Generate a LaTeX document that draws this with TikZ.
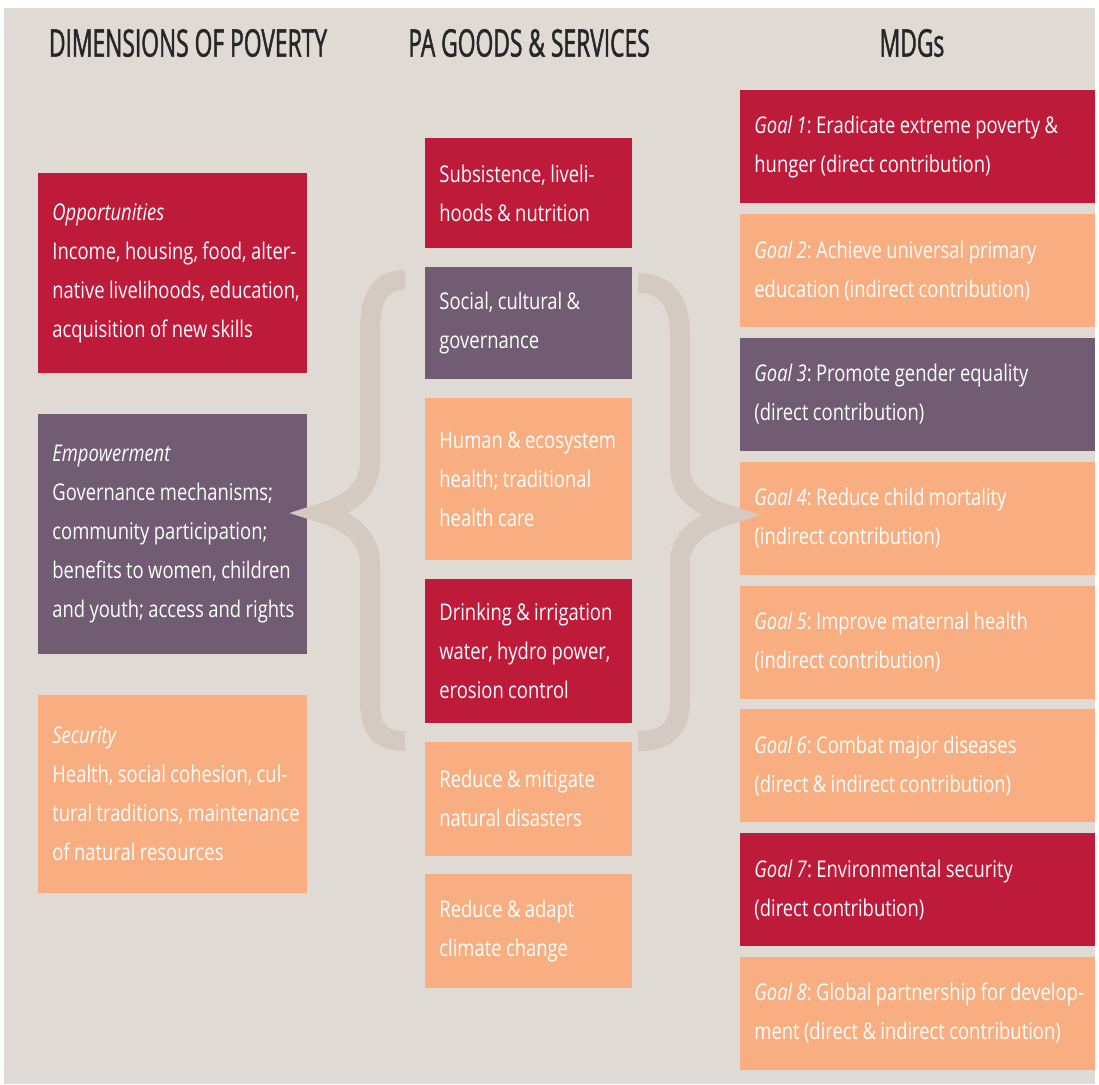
\documentclass[tikz,border=0pt]{standalone}
\usepackage{fontspec}
\setmainfont[FakeStretch=0.8]{Open Sans}
\newfontfamily\headfont[FakeStretch=0.6,FakeBold=1.2]{Open Sans}
\usetikzlibrary{positioning}

\definecolor{crimson}{HTML}{BE1A3A}
\definecolor{plum}{HTML}{725C74}
\definecolor{peach}{HTML}{F8AE80}
\definecolor{sand}{HTML}{E0DAD5}
\definecolor{bracegray}{HTML}{D4CAC1}

\begin{document}
\begin{tikzpicture}[x=0.5pt,y=-0.5pt,
    box/.style={inner xsep=0pt,inner ysep=0pt,text=white,align=left,
        font=\fontsize{11.5}{19.5}\selectfont,
        execute at begin node={\frenchspacing\leftskip=7pt\spaceskip=2.2pt plus 1pt minus .5pt}},
    dim box/.style={box,text width=134.5pt},
    goods box/.style={box,text width=103.5pt},
    goal box/.style={box,text width=177.5pt,minimum height=56.5pt},
    head/.style={font=\headfont\fontsize{19}{22}\selectfont,text=black!85},
    brace/.style={draw=bracegray,line width=10pt,line cap=butt}]
    \useasboundingbox (0,0) rectangle (1099,1084);
    \fill[white] (0,0) rectangle (1099,1084);
    \fill[sand] (4,8) rectangle (1095,1084);

    % column headings
    \node[head] (h1) at (188,43) {DIMENSIONS OF POVERTY};
    \node[head] (h2) at (529,43) {PA GOODS \& SERVICES};
    \node[head] (h3) at (912,43) {MDGs};

    % dimensions of poverty
    \node[dim box,fill=crimson,minimum height=100pt,anchor=north west] (d1) at (38,173)
        {\textit{Opportunities}\\Income, housing, food, alter-\\native livelihoods, education,\\acquisition of new skills};
    \node[dim box,fill=plum,minimum height=120pt] (d2) [below=20pt of d1]
        {\textit{Empowerment}\\Governance mechanisms;\\community participation;\\benefits to women, children\\and youth; access and rights};
    \node[dim box,fill=peach,minimum height=99pt] (d3) [below=20pt of d2]
        {\textit{Security}\\Health, social cohesion, cul-\\tural traditions, maintenance\\of natural resources};

    % PA goods and services
    \node[goods box,fill=crimson,minimum height=55pt,anchor=north west] (p1) at (425,138)
        {Subsistence, liveli-\\hoods \& nutrition};
    \node[goods box,fill=plum,minimum height=56pt] (p2) [below=9pt of p1]
        {Social, cultural \&\\governance};
    \node[goods box,fill=peach,minimum height=81pt] (p3) [below=9pt of p2]
        {Human \& ecosystem\\health; traditional\\health care};
    \node[goods box,fill=crimson,minimum height=72pt] (p4) [below=9pt of p3]
        {Drinking \& irrigation\\water, hydro power,\\erosion control};
    \node[goods box,fill=peach,minimum height=57pt] (p5) [below=9pt of p4]
        {Reduce \& mitigate\\natural disasters};
    \node[goods box,fill=peach,minimum height=57pt] (p6) [below=9pt of p5]
        {Reduce \& adapt\\climate change};

    % MDGs
    \node[goal box,fill=crimson,anchor=north west] (g1) at (740,90)
        {\textit{Goal 1}: Eradicate extreme poverty \&\\hunger (direct contribution)};
    \node[goal box,fill=peach] (g2) [below=5pt of g1]
        {\textit{Goal 2}: Achieve universal primary\\education (indirect contribution)};
    \node[goal box,fill=plum] (g3) [below=5pt of g2]
        {\textit{Goal 3}: Promote gender equality\\(direct contribution)};
    \node[goal box,fill=peach] (g4) [below=5pt of g3]
        {\textit{Goal 4}: Reduce child mortality\\(indirect contribution)};
    \node[goal box,fill=peach] (g5) [below=5pt of g4]
        {\textit{Goal 5}: Improve maternal health\\(indirect contribution)};
    \node[goal box,fill=peach] (g6) [below=5pt of g5]
        {\textit{Goal 6}: Combat major diseases\\(direct \& indirect contribution)};
    \node[goal box,fill=crimson] (g7) [below=5pt of g6]
        {\textit{Goal 7}: Environmental security\\(direct contribution)};
    \node[goal box,fill=peach] (g8) [below=5pt of g7]
        {\textit{Goal 8}: Global partnership for develop-\\ment (direct \& indirect contribution)};

    % braces
    \draw[brace] (405,280) .. controls (380,280) and (370,297) .. (370,332) -- (370,462)
        .. controls (370,492) and (345,506) .. (322,513)
        .. controls (345,520) and (370,534) .. (370,564) -- (370,700)
        .. controls (370,730) and (380,741) .. (405,741);
    \draw[brace] (638,283) .. controls (665,283) and (680,300) .. (680,335) -- (680,468)
        .. controls (680,494) and (705,508) .. (728,515)
        .. controls (705,522) and (680,536) .. (680,562) -- (680,700)
        .. controls (680,730) and (665,741) .. (638,741);
\end{tikzpicture}
\end{document}
